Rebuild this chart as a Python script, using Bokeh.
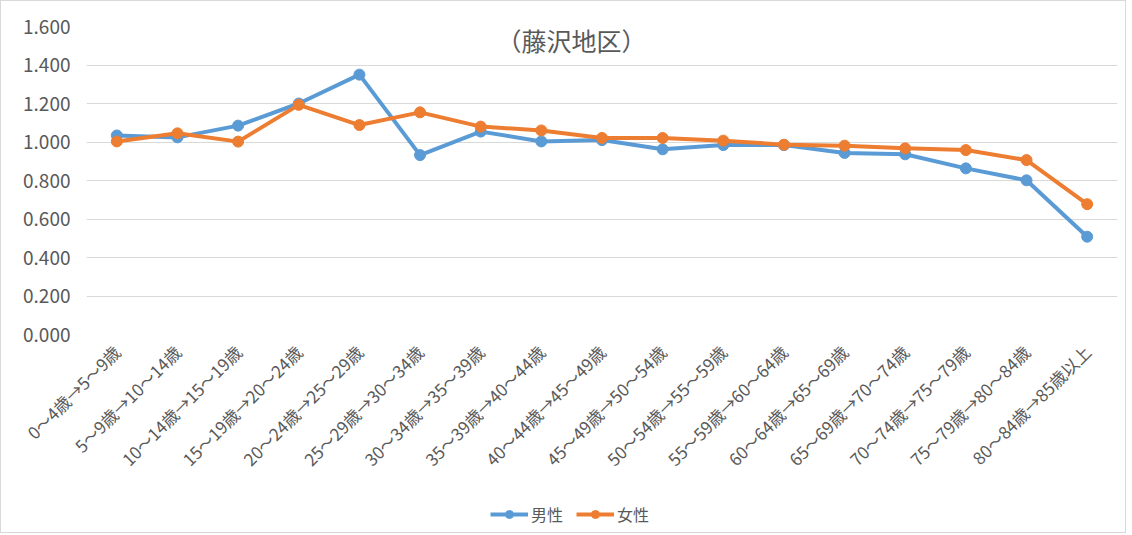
from bokeh.plotting import figure
from bokeh.layouts import column
from bokeh.models import (Range1d, FixedTicker, NumeralTickFormatter, Legend, LegendItem, Label)
from bokeh.embed import file_html
from bokeh.resources import INLINE
import math

categories = ["0～4歳→5～9歳", "5～9歳→10～14歳", "10～14歳→15～19歳", "15～19歳→20～24歳",
              "20～24歳→25～29歳", "25～29歳→30～34歳", "30～34歳→35～39歳", "35～39歳→40～44歳",
              "40～44歳→45～49歳", "45～49歳→50～54歳", "50～54歳→55～59歳", "55～59歳→60～64歳",
              "60～64歳→65～69歳", "65～69歳→70～74歳", "70～74歳→75～79歳", "75～79歳→80～84歳",
              "80～84歳→85歳以上"]
male = [1.034, 1.024, 1.085, 1.200, 1.350, 0.932, 1.054, 1.003, 1.010, 0.962, 0.984,
        0.984, 0.943, 0.936, 0.863, 0.801, 0.508]
female = [1.003, 1.045, 1.002, 1.193, 1.088, 1.154, 1.080, 1.060, 1.021, 1.021, 1.007,
          0.986, 0.981, 0.967, 0.958, 0.906, 0.677]
y_ticks = [0.0, 0.2, 0.4, 0.6, 0.8, 1.0, 1.2, 1.4, 1.6]
title_text = "（藤沢地区）"
series_names = ["男性", "女性"]

FONT = "Noto Sans CJK JP"
GRAY = "#595959"
BLUE = "#5B9BD5"
ORANGE = "#ED7D31"
W = 1124

p = figure(width=W, height=495, x_range=categories, y_range=Range1d(0, 1.6),
           output_backend="svg", toolbar_location=None,
           min_border_left=85, min_border_right=8, min_border_top=25, min_border_bottom=162)
p.outline_line_color = None
p.background_fill_color = "white"
p.border_fill_color = "white"

p.xgrid.grid_line_color = None
p.ygrid.grid_line_color = "#d9d9d9"
p.ygrid.grid_line_width = 1

p.yaxis.ticker = FixedTicker(ticks=y_ticks)
p.yaxis.formatter = NumeralTickFormatter(format="0.000")
for ax in (p.xaxis[0], p.yaxis[0]):
    ax.axis_line_color = None
    ax.major_tick_line_color = None
    ax.minor_tick_line_color = None
    ax.major_label_text_color = GRAY
    ax.major_label_text_font = FONT
p.yaxis.major_label_text_font_size = "19px"
p.yaxis.major_label_standoff = 10
p.xaxis.major_label_text_font_size = "17px"
p.xaxis.major_label_orientation = math.pi / 4
p.xaxis.major_label_standoff = 8

p.line(categories, male, line_color=BLUE, line_width=4)
p.scatter(categories, male, size=11, fill_color=BLUE, line_color=BLUE)
p.line(categories, female, line_color=ORANGE, line_width=4)
p.scatter(categories, female, size=11, fill_color=ORANGE, line_color=ORANGE)

title = Label(x=485, y=295, x_units="screen", y_units="screen", text=title_text,
              text_font=FONT, text_font_size="25px", text_color=GRAY,
              text_align="center", text_baseline="middle")
p.add_layout(title)

# legend strip: the renderers here hold no visible data, they only provide swatches
lg = figure(width=W, height=36, output_backend="svg", toolbar_location=None,
            x_range=Range1d(0, 1), y_range=Range1d(0, 1),
            x_axis_type=None, y_axis_type=None,
            min_border_left=0, min_border_right=0, min_border_top=0, min_border_bottom=0)
lg.outline_line_color = None
lg.xgrid.grid_line_color = None
lg.ygrid.grid_line_color = None
nan = [float("nan")]
r1 = lg.line(nan, nan, line_color=BLUE, line_width=4)
m1 = lg.scatter(nan, nan, size=11, fill_color=BLUE, line_color=BLUE)
r2 = lg.line(nan, nan, line_color=ORANGE, line_width=4)
m2 = lg.scatter(nan, nan, size=11, fill_color=ORANGE, line_color=ORANGE)
legend = Legend(items=[LegendItem(label=series_names[0], renderers=[r1, m1]),
                       LegendItem(label=series_names[1], renderers=[r2, m2])],
                orientation="horizontal", location=(404, 6),
                label_text_font=FONT, label_text_font_size="16px", label_text_color=GRAY,
                glyph_width=38, spacing=13, border_line_color=None, background_fill_alpha=0,
                padding=2, margin=0, label_standoff=3)
lg.add_layout(legend, "center")

layout = column(p, lg, spacing=0, styles={"border": "1px solid #d9d9d9"})
open("out.html", "w").write(file_html(layout, INLINE))
